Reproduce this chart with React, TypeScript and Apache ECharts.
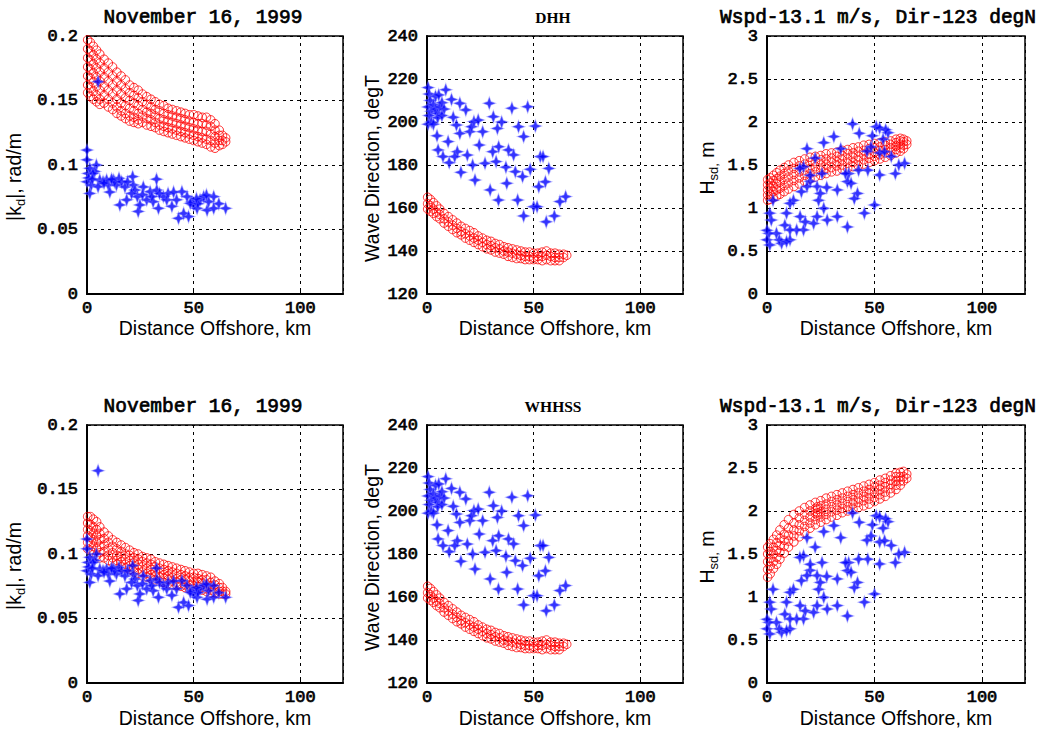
import React, { useEffect, useRef } from 'react';
import * as echarts from 'echarts';

// ---------- tick / title labels ----------
const titlesTop = ['November 16, 1999', 'DHH', 'Wspd-13.1 m/s, Dir-123 degN'];
const titlesBottom = ['November 16, 1999', 'WHHSS', 'Wspd-13.1 m/s, Dir-123 degN'];
const xName = 'Distance Offshore, km';

// ---------- measured (blue stars) ----------
const kdBlue: number[][] = [
  [0, 0.1116], [0, 0.104], [0.5, 0.0935], [0, 0.087], [1.3, 0.078], [2, 0.0845], [4.4, 0.1], [3.6, 0.095],
  [6, 0.0884], [5.2, 0.0832], [7.5, 0.087], [10, 0.0845], [12.3, 0.0884], [13.8, 0.0845], [13, 0.087],
  [15, 0.0897], [16.2, 0.087], [17.8, 0.083], [15.4, 0.069], [18.6, 0.073], [21.4, 0.091], [21.7, 0.0845],
  [22.5, 0.0806], [23.6, 0.0755], [24, 0.064], [24.8, 0.069], [26.4, 0.083], [28, 0.073], [29.6, 0.0793],
  [31, 0.0716], [32.7, 0.0806], [32.6, 0.089], [33.5, 0.0664], [35.8, 0.0755], [37.4, 0.073], [39.8, 0.068],
  [42, 0.073], [42.9, 0.0587], [44.5, 0.0793], [45.3, 0.0625], [47.6, 0.06], [49.2, 0.0716], [50, 0.069],
  [51.6, 0.0664], [53, 0.073], [54.7, 0.0755], [56.3, 0.065], [57, 0.0716], [59.4, 0.0755], [61.8, 0.07],
  [65, 0.0664], [5.2, 0.1646], [1.3, 0.0974], [2.8, 0.0935], [9.2, 0.0884], [10.7, 0.079], [19, 0.087],
  [20.9, 0.078], [30.4, 0.0755], [38, 0.078], [40.6, 0.079], [46.9, 0.0755], [48.4, 0.0703], [59.4, 0.0664],
  [0.8, 0.09], [2.5, 0.089], [8, 0.086], [11.5, 0.089], [26, 0.077], [34, 0.078], [52, 0.07], [56, 0.0767],
  [51.3, 0.074]
];

const dirBlue: number[][] = [
  [0.5, 216], [1, 213], [1.5, 210], [0.5, 207], [2, 205], [1, 203], [3, 208], [4, 206], [5, 204], [6, 207],
  [7, 209], [8, 206], [4, 212], [2, 200], [0.5, 199], [3, 199], [5, 202], [7, 203], [8.8, 215], [5.5, 212.6],
  [4.7, 193.6], [5.2, 187], [7.5, 183.9], [10.4, 181.1], [9.9, 190.9], [12.3, 202.2], [13.8, 198.6],
  [11.5, 210.5], [15.4, 208.7], [18.2, 205.6], [15.4, 194.7], [14.2, 186.2], [13, 183.9], [15.9, 176.6],
  [18.9, 184.6], [20.1, 195.5], [20.9, 197.8], [22, 200.2], [21.4, 180], [22.5, 173], [24.5, 189.3],
  [24, 200.9], [26.1, 195.5], [27.2, 180.8], [29.2, 208.7], [31.1, 202.5], [30.8, 186.2], [32.4, 181.6],
  [33, 197], [33.6, 188.5], [29.6, 168.4], [33.5, 163.7], [35, 200], [37, 179], [37.4, 171.5], [38.2, 187],
  [39.8, 206.4], [40.6, 184.7], [41.4, 176.9], [42.5, 163.7], [42.9, 197.8], [44.8, 174.6], [45.3, 156.3],
  [45.3, 193.2], [47.2, 207.1], [48.4, 178], [50, 160.6], [50.8, 198.1], [51.6, 160.6], [52.4, 169.9],
  [53.1, 183.9], [54.4, 183.9], [55.5, 172.2], [55.9, 153.6], [57.1, 178.4], [59.7, 156.3], [62.3, 163],
  [65, 165.3]
];

const hsBlue: number[][] = [
  [39.8, 1.977], [50.8, 1.946], [52.4, 1.93], [56.3, 1.876], [42.9, 1.868], [31.1, 1.83], [26.4, 1.76],
  [18.6, 1.69], [34.3, 1.69], [48.4, 1.71], [52.4, 1.64], [54.7, 1.655], [57.8, 1.6], [64, 1.52], [61.3, 1.5],
  [59.7, 1.4], [52.4, 1.384], [46.9, 1.44], [42.6, 1.44], [38, 1.4], [36.5, 1.4], [37.4, 1.307], [39.1, 1.287],
  [32.7, 1.21], [42.1, 1.17], [40.6, 1.11], [45.3, 0.94], [50, 1.035], [37.4, 0.78], [32.7, 0.9], [28, 0.86],
  [26.4, 0.996], [24, 1.09], [23.3, 1.25], [20.1, 1.31], [18.6, 1.25], [16, 1.19], [15.4, 0.9], [17, 0.745],
  [17.8, 0.84], [21.7, 0.82], [23.3, 0.9], [13.8, 0.745], [12.3, 1.09], [10.7, 1.054], [9.1, 0.94], [8.3, 0.8],
  [6.8, 0.59], [5.7, 0.63], [4.4, 0.705], [2, 0.86], [1.3, 0.94], [0.9, 0.705], [0, 0.74], [0, 0.63],
  [1.3, 0.57], [2.8, 1.09], [10.7, 0.745], [10.7, 0.63], [9.1, 0.61], [20.1, 1.38], [25.6, 1.4], [24.8, 1.17],
  [17, 1.48], [54, 1.8], [49, 1.84], [46.5, 1.66], [22.4, 1.58], [15.3, 1.46], [27.8, 1.24], [55.2, 1.91]
];

// ---------- model (red circles): [distance, values at that distance] ----------
const kdRedTop: [number, number[]][] = [
  [0.3, [0.197, 0.19, 0.183, 0.176, 0.169, 0.162, 0.156]],
  [1.6, [0.195, 0.188, 0.181, 0.174, 0.167, 0.16, 0.153]],
  [3.0, [0.192, 0.185, 0.178, 0.171, 0.164, 0.157, 0.151]],
  [4.5, [0.189, 0.182, 0.175, 0.168, 0.161, 0.154, 0.149]],
  [6.0, [0.186, 0.179, 0.172, 0.165, 0.158, 0.151, 0.147]],
  [8.0, [0.182, 0.175, 0.168, 0.161, 0.154, 0.148]],
  [10.0, [0.179, 0.172, 0.165, 0.158, 0.151, 0.145]],
  [12.0, [0.176, 0.169, 0.162, 0.155, 0.148, 0.143]],
  [14.0, [0.172, 0.165, 0.158, 0.151, 0.145, 0.14]],
  [16.0, [0.169, 0.162, 0.155, 0.148, 0.142, 0.138]],
  [18.0, [0.166, 0.159, 0.152, 0.146, 0.14, 0.136]],
  [20.0, [0.162, 0.156, 0.15, 0.144, 0.138, 0.134]],
  [22.0, [0.16, 0.154, 0.148, 0.142, 0.137, 0.133]],
  [24.0, [0.158, 0.152, 0.146, 0.14, 0.135, 0.132]],
  [26.0, [0.155, 0.149, 0.143, 0.138, 0.133]],
  [28.0, [0.153, 0.147, 0.141, 0.136, 0.131]],
  [30.0, [0.151, 0.145, 0.14, 0.135, 0.13]],
  [32.0, [0.149, 0.143, 0.138, 0.133, 0.129]],
  [34.0, [0.147, 0.142, 0.136, 0.131, 0.127]],
  [36.0, [0.146, 0.14, 0.135, 0.13, 0.126]],
  [38.0, [0.144, 0.139, 0.134, 0.129, 0.125]],
  [40.0, [0.143, 0.138, 0.133, 0.128, 0.124]],
  [42.0, [0.142, 0.137, 0.132, 0.127, 0.123]],
  [44.0, [0.141, 0.136, 0.131, 0.126, 0.122]],
  [46.0, [0.14, 0.135, 0.13, 0.125, 0.121]],
  [48.0, [0.139, 0.134, 0.129, 0.124, 0.12]],
  [50.0, [0.139, 0.133, 0.128, 0.123, 0.119]],
  [52.0, [0.138, 0.132, 0.127, 0.122, 0.118]],
  [54.0, [0.137, 0.132, 0.126, 0.121, 0.117]],
  [56.0, [0.137, 0.131, 0.126, 0.12, 0.116]],
  [58.0, [0.135, 0.13, 0.124, 0.119, 0.114]],
  [60.0, [0.132, 0.127, 0.122, 0.117, 0.113]],
  [62.0, [0.127, 0.123, 0.119, 0.115]],
  [63.5, [0.123, 0.119, 0.116]],
  [65.0, [0.121, 0.118]]
];

const kdRedBottom: [number, number[]][] = [
  [0.3, [0.129, 0.124, 0.119, 0.114, 0.109, 0.104]],
  [1.6, [0.129, 0.123, 0.118, 0.113, 0.108, 0.103]],
  [3.0, [0.127, 0.121, 0.116, 0.111, 0.106, 0.101]],
  [4.5, [0.125, 0.119, 0.114, 0.109, 0.104, 0.099]],
  [6.0, [0.121, 0.116, 0.111, 0.106, 0.101, 0.097]],
  [8.0, [0.117, 0.112, 0.107, 0.102, 0.097]],
  [10.0, [0.114, 0.109, 0.104, 0.099, 0.095]],
  [12.0, [0.111, 0.106, 0.101, 0.097, 0.093]],
  [14.0, [0.109, 0.104, 0.099, 0.095, 0.092]],
  [16.0, [0.107, 0.102, 0.098, 0.094, 0.09]],
  [18.0, [0.105, 0.1, 0.096, 0.092, 0.089]],
  [20.0, [0.103, 0.099, 0.095, 0.091, 0.088]],
  [22.0, [0.101, 0.097, 0.093, 0.089, 0.086]],
  [24.0, [0.1, 0.096, 0.092, 0.088, 0.085]],
  [26.0, [0.098, 0.094, 0.09, 0.086, 0.083]],
  [28.0, [0.097, 0.093, 0.089, 0.085, 0.082]],
  [30.0, [0.096, 0.092, 0.088, 0.084, 0.081]],
  [32.0, [0.094, 0.09, 0.086, 0.083, 0.08]],
  [34.0, [0.093, 0.089, 0.085, 0.082, 0.079]],
  [36.0, [0.092, 0.088, 0.084, 0.081, 0.078]],
  [38.0, [0.091, 0.087, 0.083, 0.08, 0.077]],
  [40.0, [0.09, 0.086, 0.082, 0.079, 0.076]],
  [42.0, [0.089, 0.085, 0.081, 0.078, 0.076]],
  [44.0, [0.088, 0.084, 0.08, 0.077, 0.075]],
  [46.0, [0.087, 0.083, 0.08, 0.076, 0.074]],
  [48.0, [0.086, 0.082, 0.079, 0.076, 0.073]],
  [50.0, [0.085, 0.082, 0.078, 0.075, 0.073]],
  [52.0, [0.085, 0.081, 0.078, 0.075, 0.072]],
  [54.0, [0.084, 0.08, 0.077, 0.074, 0.072]],
  [56.0, [0.083, 0.08, 0.076, 0.073, 0.071]],
  [58.0, [0.082, 0.078, 0.075, 0.072, 0.07]],
  [60.0, [0.079, 0.076, 0.073, 0.07]],
  [62.0, [0.077, 0.074, 0.071, 0.069]],
  [63.5, [0.074, 0.071, 0.069]],
  [65.0, [0.071, 0.069]]
];

const dirRed: [number, number[]][] = [
  [0.3, [165, 162, 159.5]], [1.6, [164, 161, 158.5]], [3, [162.5, 159.5, 157.5]], [4.5, [161, 158, 156]],
  [6, [159.5, 157, 155]], [8, [157.5, 155, 153]], [10, [156, 153.5, 151.5]], [12, [154.5, 152, 150]],
  [14, [153, 150.5, 148.5]], [16, [151.5, 149, 147.5]], [18, [150.5, 148, 146]], [20, [149.5, 147, 145]],
  [22, [148.5, 146, 144]], [24, [147, 145, 143]], [26, [146, 144, 142]], [28, [145, 143, 141]],
  [30, [144.5, 142.5, 140.5]], [32, [143.5, 141.5, 139.5]], [34, [143, 141, 139]], [36, [142, 140, 138.5]],
  [38, [141.5, 139.5, 137.5]], [40, [141, 139, 137]], [42, [140.5, 138.5, 136.5]], [44, [140, 138, 136.5]],
  [46, [139.5, 137.5, 136]], [48, [139.5, 137.5, 136]], [50, [139, 137, 136]], [52, [139, 137.5, 136]],
  [54, [139.5, 137.5, 135.5]], [56, [140, 138, 136]], [58, [139, 137.5, 135.5]], [60, [139, 137, 135.5]],
  [62, [138.5, 137, 135.5]], [64, [138.5, 137]], [65.5, [138]]
];

const hsRedTop: [number, number[]][] = [
  [0.3, [1.09, 1.15, 1.21, 1.27, 1.33]], [1.5, [1.1, 1.16, 1.23, 1.29, 1.35]], [3, [1.12, 1.19, 1.25, 1.32, 1.38]],
  [4.5, [1.14, 1.21, 1.28, 1.34, 1.41]], [6, [1.16, 1.23, 1.3, 1.37, 1.44]], [8, [1.19, 1.26, 1.33, 1.4, 1.47]],
  [10, [1.22, 1.29, 1.36, 1.43, 1.5]], [12.5, [1.25, 1.32, 1.39, 1.46, 1.53]], [15, [1.28, 1.35, 1.42, 1.49, 1.55]],
  [17.5, [1.31, 1.38, 1.44, 1.51, 1.57]], [20, [1.34, 1.4, 1.46, 1.53, 1.59]], [22.5, [1.36, 1.42, 1.48, 1.54, 1.6]],
  [25, [1.38, 1.44, 1.5, 1.56, 1.61]], [27.5, [1.4, 1.46, 1.51, 1.57, 1.63]], [30, [1.42, 1.47, 1.53, 1.58, 1.64]],
  [32.5, [1.43, 1.49, 1.54, 1.6, 1.65]], [35, [1.45, 1.5, 1.56, 1.61, 1.67]], [37.5, [1.46, 1.52, 1.57, 1.63, 1.68]],
  [40, [1.48, 1.53, 1.59, 1.64, 1.7]], [42.5, [1.49, 1.55, 1.6, 1.66, 1.71]], [45, [1.51, 1.56, 1.62, 1.67, 1.73]],
  [47.5, [1.53, 1.58, 1.63, 1.69, 1.74]], [50, [1.55, 1.6, 1.65, 1.7, 1.75]], [52.5, [1.57, 1.62, 1.67, 1.71, 1.76]],
  [55, [1.59, 1.64, 1.68, 1.73, 1.77]], [57.5, [1.61, 1.66, 1.7, 1.74, 1.78]], [60, [1.64, 1.68, 1.72, 1.76, 1.8]],
  [62, [1.66, 1.7, 1.74, 1.78, 1.81]], [63.5, [1.69, 1.73, 1.77, 1.8]], [65, [1.74, 1.78]]
];

const hsRedBottom: [number, number[]][] = [
  [0.3, [1.23, 1.32, 1.41, 1.5, 1.58]], [1.5, [1.27, 1.36, 1.45, 1.53, 1.62]], [3, [1.33, 1.41, 1.5, 1.58, 1.67]],
  [4.5, [1.38, 1.46, 1.54, 1.63, 1.72]], [6, [1.44, 1.52, 1.6, 1.68, 1.78]], [8, [1.51, 1.59, 1.66, 1.73, 1.84]],
  [10, [1.58, 1.65, 1.72, 1.8, 1.9]], [12.5, [1.64, 1.71, 1.78, 1.86, 1.96]], [15, [1.7, 1.77, 1.84, 1.92, 2.0]],
  [17.5, [1.75, 1.82, 1.89, 1.96, 2.04]], [20, [1.8, 1.86, 1.93, 2.0, 2.07]], [22.5, [1.84, 1.9, 1.97, 2.03, 2.1]],
  [23.5, [1.95, 1.98, 2.02, 2.05]],
  [25, [1.87, 1.93, 1.99, 2.06, 2.12]], [27.5, [1.9, 1.96, 2.02, 2.08, 2.15]], [30, [1.93, 1.99, 2.05, 2.11, 2.17]],
  [32.5, [1.95, 2.01, 2.07, 2.13, 2.19]], [35, [1.98, 2.03, 2.09, 2.15, 2.21]], [37.5, [2.0, 2.05, 2.11, 2.17, 2.23]],
  [40, [2.02, 2.08, 2.13, 2.19, 2.25]], [42.5, [2.04, 2.1, 2.15, 2.21, 2.27]], [45, [2.06, 2.12, 2.17, 2.23, 2.29]],
  [47.5, [2.08, 2.14, 2.2, 2.25, 2.31]], [50, [2.11, 2.16, 2.22, 2.28, 2.33]], [52.5, [2.14, 2.19, 2.25, 2.3, 2.36]],
  [55, [2.17, 2.22, 2.28, 2.33, 2.38]], [57.5, [2.21, 2.26, 2.31, 2.36, 2.41]], [60, [2.25, 2.3, 2.35, 2.4, 2.44]],
  [62, [2.3, 2.35, 2.4, 2.45]], [63.5, [2.35, 2.4, 2.46]], [65, [2.38, 2.43]]
];

// ---------- axes ----------
const xRange = { min: 0, max: 120, interval: 50 };
const yRanges = [
  { min: 0, max: 0.2, interval: 0.05 },
  { min: 120, max: 240, interval: 20 },
  { min: 0, max: 3, interval: 0.5 }
];

const flat = (cols: [number, number[]][]) => cols.flatMap(([x, ys]) => ys.map((y) => [x, y]));

const STAR = 'path://M10,0 L12.7,7.3 L20,10 L12.7,12.7 L10,20 L7.3,12.7 L0,10 L7.3,7.3 Z';
const MONO = '"Liberation Mono", "DejaVu Sans Mono", monospace';
const SANS = '"Liberation Sans", Arial, sans-serif';

export default function App() {
  const ref = useRef<HTMLDivElement>(null);
  useEffect(() => {
    if (!ref.current) return;
    const chart = echarts.init(ref.current, undefined, { renderer: 'svg' });

    const lefts = [87, 427, 767];
    const widths = [256, 256, 258];
    const tops = [36, 425];
    const H = 258;

    const grids: any[] = [];
    const xAxes: any[] = [];
    const yAxes: any[] = [];
    const series: any[] = [];
    const graphics: any[] = [];

    const redSets = [
      [flat(kdRedTop), flat(dirRed), flat(hsRedTop)],
      [flat(kdRedBottom), flat(dirRed), flat(hsRedBottom)]
    ];
    const blueSets = [kdBlue, dirBlue, hsBlue];
    const titleCenters = [203, 553, 878];

    const tickLabel = {
      color: '#000', fontFamily: MONO, fontWeight: 'normal', fontSize: 17,
      textBorderColor: '#000', textBorderWidth: 0.7
    };

    for (let r = 0; r < 2; r++) {
      for (let c = 0; c < 3; c++) {
        const gi = r * 3 + c;
        grids.push({
          left: lefts[c], top: tops[r], width: widths[c], height: H,
          show: true, borderColor: '#000', borderWidth: 1.5, backgroundColor: '#fff'
        });
        xAxes.push({
          gridIndex: gi, type: 'value', ...xRange,
          axisLine: { show: true, onZero: false, lineStyle: { color: '#000', width: 2 } },
          axisTick: { show: true, inside: true, length: 4, lineStyle: { color: '#000' } },
          axisLabel: { ...tickLabel, margin: 6, showMaxLabel: false },
          splitLine: { show: true, lineStyle: { color: '#000', type: [3, 4], width: 1 } }
        });
        yAxes.push({
          gridIndex: gi, type: 'value', ...yRanges[c],
          axisLine: { show: true, onZero: false, lineStyle: { color: '#000', width: 2 } },
          axisTick: { show: true, inside: true, length: 4, lineStyle: { color: '#000' } },
          axisLabel: { ...tickLabel, margin: 9 },
          splitLine: { show: true, lineStyle: { color: '#000', type: [3, 4], width: 1 } }
        });
        series.push({
          type: 'scatter', xAxisIndex: gi, yAxisIndex: gi, data: redSets[r][c],
          symbol: 'circle', symbolSize: 8.5,
          itemStyle: { color: 'rgba(255,255,255,0)', borderColor: '#ff0000', borderWidth: 1 },
          silent: true
        });
        series.push({
          type: 'scatter', xAxisIndex: gi, yAxisIndex: gi, data: blueSets[c],
          symbol: STAR, symbolSize: 12,
          itemStyle: { color: '#0000ff', borderColor: 'rgba(110,110,255,0.55)', borderWidth: 1.2 },
          silent: true
        });

        // titles
        const tText = r === 0 ? titlesTop[c] : titlesBottom[c];
        const serif = c === 1;
        graphics.push({
          type: 'text', x: titleCenters[c], y: r === 0 ? 17.5 : 406.5,
          style: {
            text: tText, fill: '#000',
            stroke: serif ? undefined : '#000', lineWidth: serif ? 0 : 0.7,
            fontFamily: serif ? '"Liberation Serif", "Times New Roman", serif' : MONO,
            fontWeight: serif ? 'bold' : 'normal', fontSize: serif ? 15.5 : 19.5,
            align: 'center', verticalAlign: 'middle', textAlign: 'center', textVerticalAlign: 'middle'
          }
        });
        // x axis name
        graphics.push({
          type: 'text', x: lefts[c] + widths[c] / 2, y: r === 0 ? 328 : 718,
          style: {
            text: xName, fill: '#000', fontFamily: SANS, fontSize: 19.5,
            align: 'center', verticalAlign: 'middle', textAlign: 'center', textVerticalAlign: 'middle'
          }
        });
      }
    }

    // y axis names (rotated)
    const yNameText = ['{n||k}{s|d}{n||, rad/m}', '{n|Wave Direction, degT}', '{n|H}{s|sd,}{n| m}'];
    const yNameX = [14, 372, 707];
    const yNameY = [177, 168.5, 168];
    for (let r = 0; r < 2; r++) {
      for (let c = 0; c < 3; c++) {
        graphics.push({
          type: 'text', x: yNameX[c], y: yNameY[c] + (r === 0 ? 0 : 389), rotation: Math.PI / 2,
          style: {
            text: yNameText[c],
            fill: '#000',
            fontFamily: SANS, fontSize: 19.5,
            align: 'center', verticalAlign: 'middle', textAlign: 'center', textVerticalAlign: 'middle',
            rich: {
              n: { fontFamily: SANS, fontSize: 19.5, lineHeight: 26, verticalAlign: 'middle', fill: '#000', color: '#000' },
              s: { fontFamily: SANS, fontSize: 13, verticalAlign: 'bottom', fill: '#000', color: '#000' }
            }
          }
        });
      }
    }

    chart.setOption({
      animation: false,
      backgroundColor: '#fff',
      grid: grids,
      xAxis: xAxes,
      yAxis: yAxes,
      series,
      graphic: { elements: graphics }
    });
    return () => chart.dispose();
  }, []);

  return (
    <div
      ref={ref}
      style={{ position: 'fixed', left: 0, top: 0, width: 1044, height: 731, background: '#fff' }}
    />
  );
}
